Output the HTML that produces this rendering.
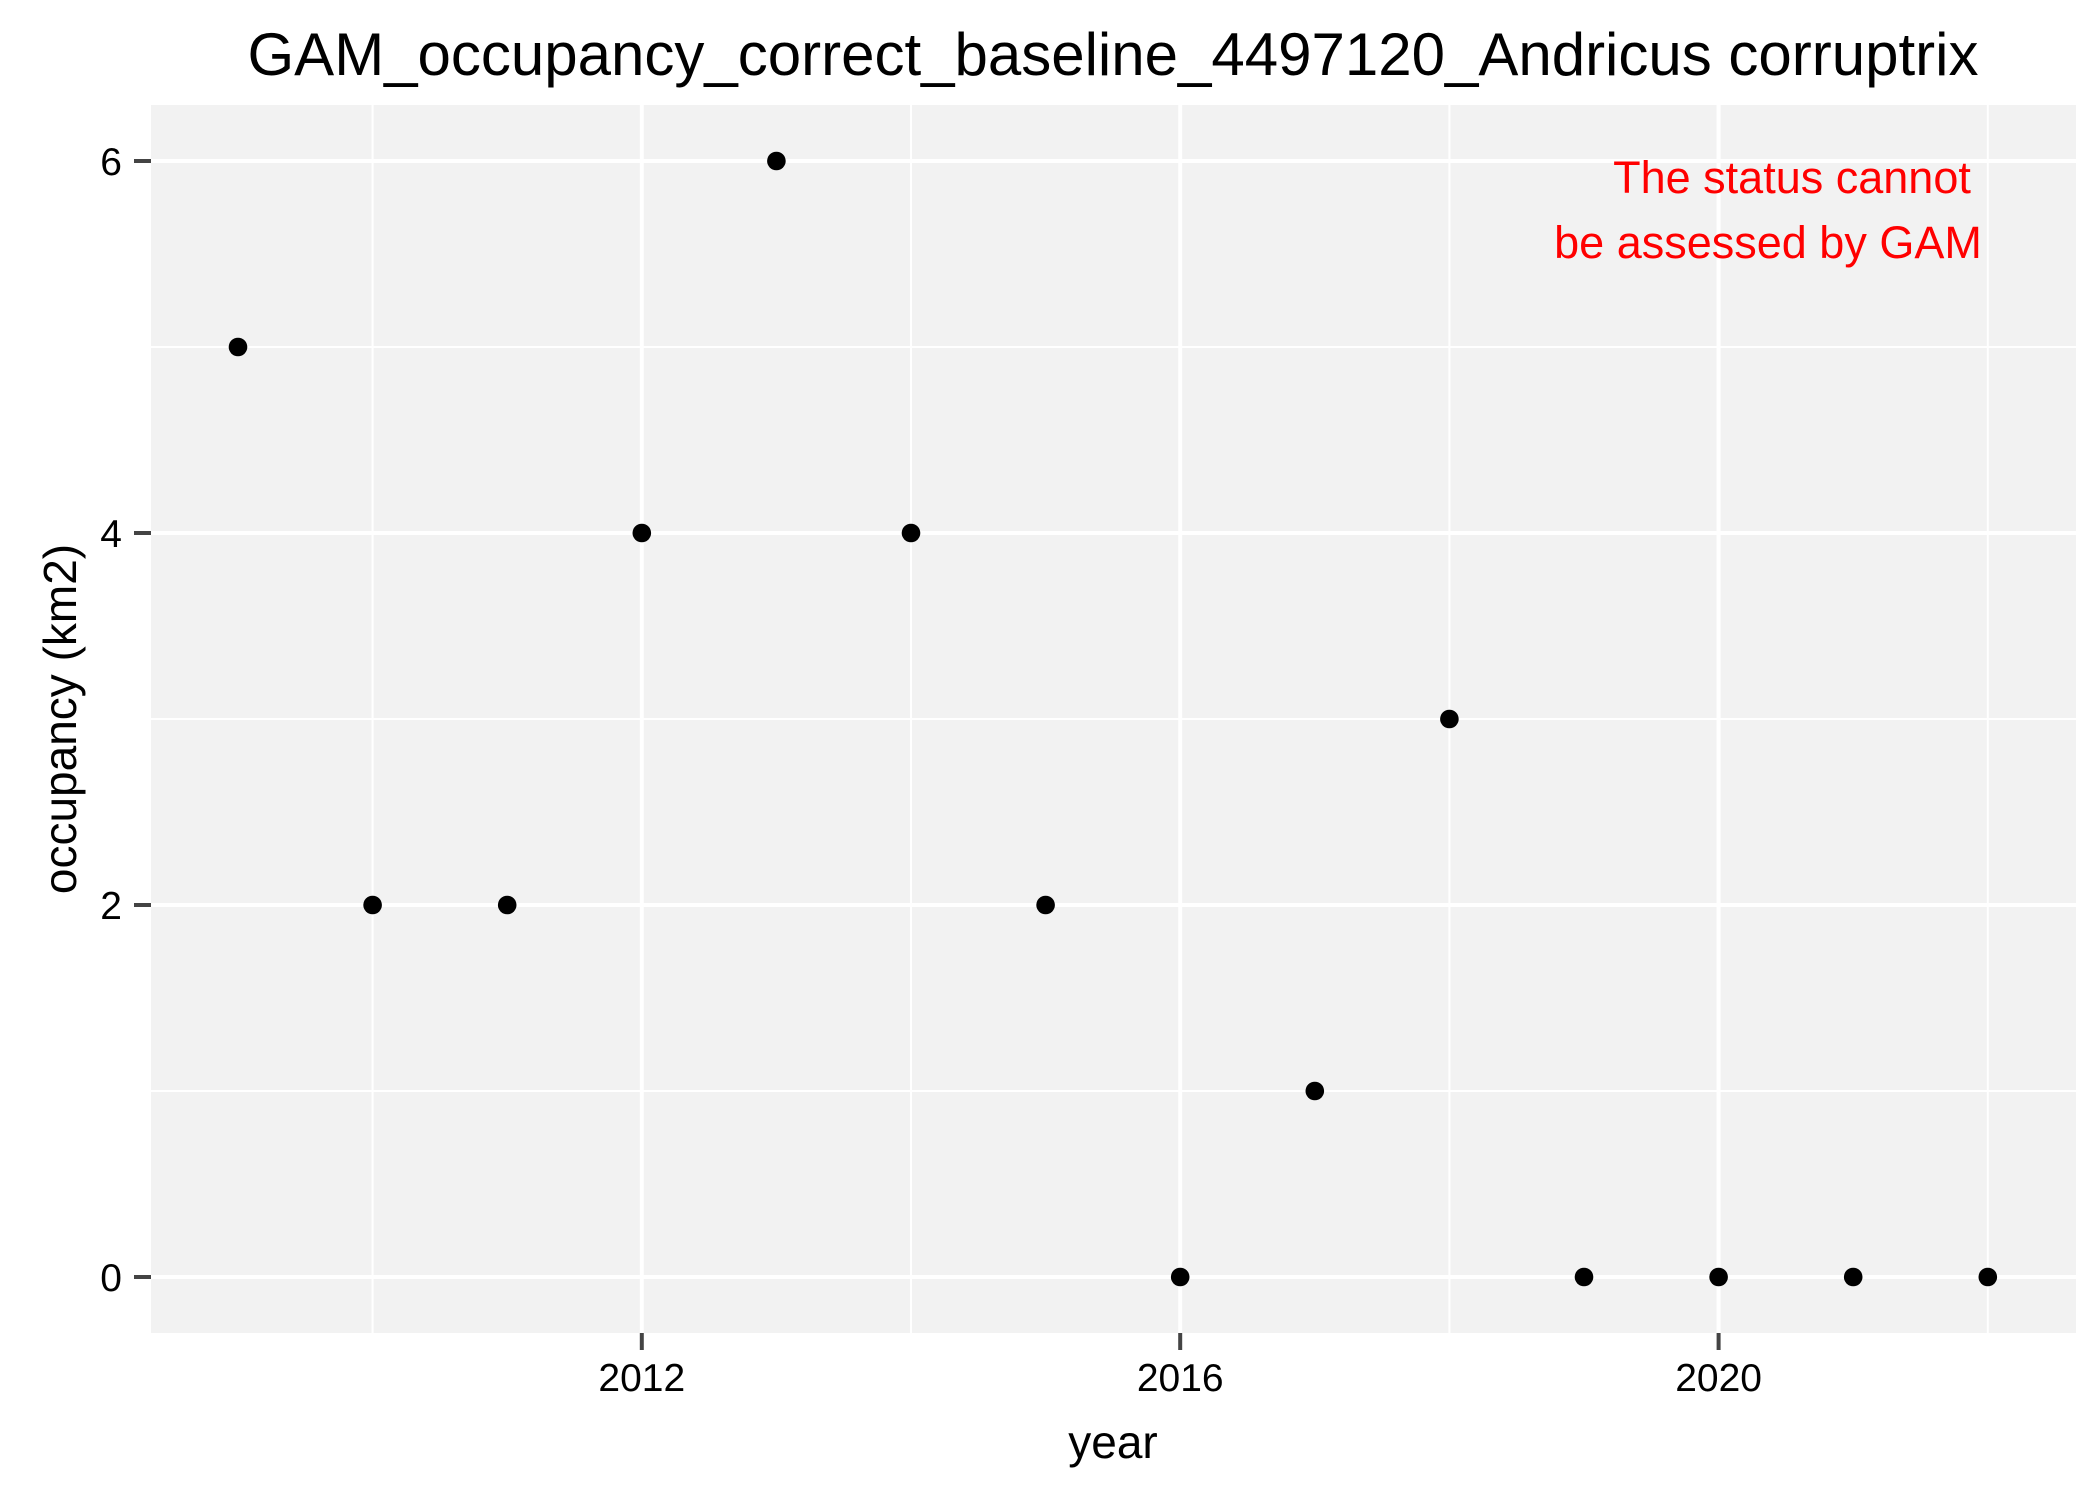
<!DOCTYPE html>
<html><head><meta charset="utf-8"><style>
body{margin:0;background:#fff}
svg{display:block;font-family:"Liberation Sans",Arial,sans-serif}
</style></head><body>
<svg id="chart" width="2100" height="1499" viewBox="0 0 2100 1499">
<rect x="0" y="0" width="2100" height="1499" fill="#fff"/>
<text x="1113" y="75" font-size="60" text-anchor="middle" fill="#000">GAM_occupancy_correct_baseline_4497120_Andricus corruptrix</text>
<rect x="151" y="105" width="1925" height="1228" fill="#f2f2f2"/>
<g id="grid"></g>
<g id="points"></g>
<g id="axes"></g>
<text x="1792" y="193" font-size="45" text-anchor="middle" fill="#ff0000">The status cannot</text>
<text x="1768" y="258" font-size="45" text-anchor="middle" fill="#ff0000">be assessed by GAM</text>
<text x="1113" y="1458" font-size="46" text-anchor="middle" fill="#000">year</text>
<text transform="translate(76,719) rotate(-90)" font-size="46" text-anchor="middle" fill="#000">occupancy (km2)</text>
</svg>
<script>
const years = [2009,2010,2011,2012,2013,2014,2015,2016,2017,2018,2019,2020,2021,2022];
const occupancy = [5,2,2,4,6,4,2,0,1,3,0,0,0,0];
const xTicks = [2012,2016,2020];
const xMinor = [2010,2014,2018,2022];
const yTicks = [0,2,4,6];
const yMinor = [1,3,5];

const NS = "http://www.w3.org/2000/svg";
function sx(v){ return 238 + (v - 2009) * 134.6; }
function sy(v){ return 1277 - v * 186; }
function mk(tag, attrs, parent){
  const e = document.createElementNS(NS, tag);
  for (const k in attrs) e.setAttribute(k, attrs[k]);
  parent.appendChild(e);
  return e;
}
const grid = document.getElementById('grid');
const axes = document.getElementById('axes');
const pts = document.getElementById('points');
const L = 151, R = 2076, T = 105, B = 1333;

yMinor.forEach(v => {
  const l = mk('line', {x1:L, x2:R, y1:sy(v), y2:sy(v), stroke:'#fff', 'stroke-width':2}, grid);
  
  
});
xMinor.forEach(v => {
  const l = mk('line', {x1:sx(v), x2:sx(v), y1:T, y2:B, stroke:'#fff', 'stroke-width':2}, grid);
  
  
});
yTicks.forEach(v => {
  const l = mk('line', {x1:L, x2:R, y1:sy(v), y2:sy(v), stroke:'#fff', 'stroke-width':4}, grid);
  
  
  const t = mk('line', {x1:134, x2:L, y1:sy(v), y2:sy(v), stroke:'#444', 'stroke-width':4}, axes);
  
  
  const tx = mk('text', {x:122, y:sy(v)+14, 'font-size':39, 'text-anchor':'end', fill:'#000'}, axes);
  tx.textContent = v;
  
  
});
xTicks.forEach(v => {
  const l = mk('line', {x1:sx(v), x2:sx(v), y1:T, y2:B, stroke:'#fff', 'stroke-width':4}, grid);
  
  
  const t = mk('line', {x1:sx(v), x2:sx(v), y1:B, y2:1350, stroke:'#444', 'stroke-width':4}, axes);
  
  
  const tx = mk('text', {x:sx(v), y:1391, 'font-size':39, 'text-anchor':'middle', fill:'#000'}, axes);
  tx.textContent = v;
  
  
});
years.forEach((yr, i) => {
  const c = mk('circle', {cx:sx(yr), cy:sy(occupancy[i]), r:9.3, fill:'#000'}, pts);
  
  
});
</script>
</body></html>
